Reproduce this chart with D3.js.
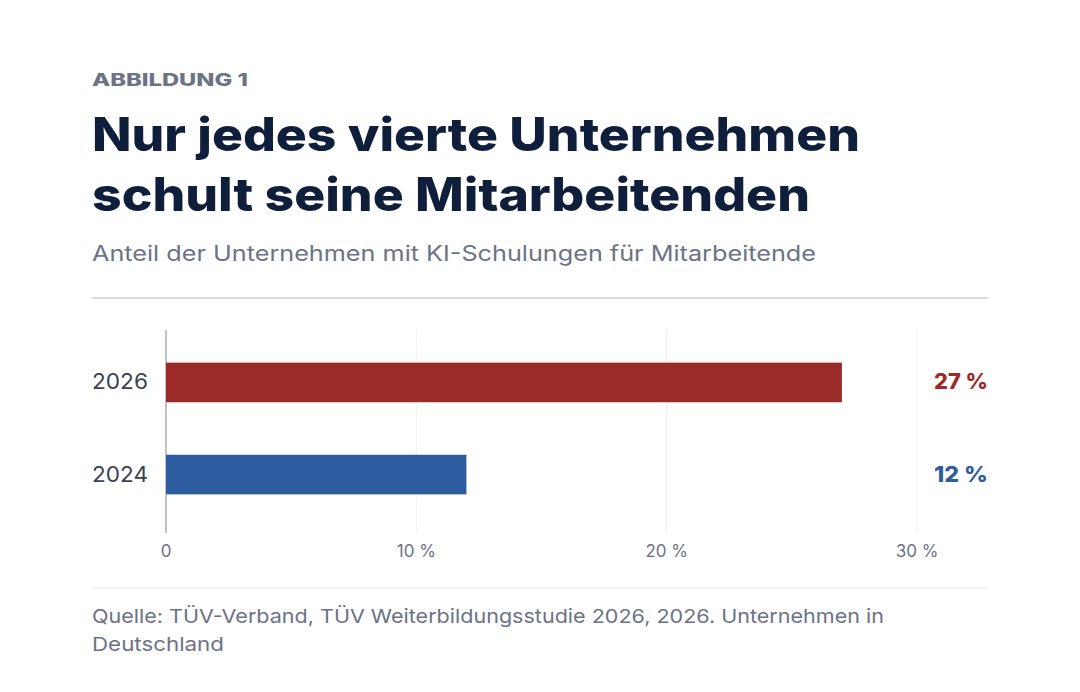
<!DOCTYPE html>
<html><head><meta charset="utf-8">
<script src="https://cdn.jsdelivr.net/npm/d3@7"></script>
<style>body{margin:0;background:#fff}svg{display:block}</style>
</head><body><svg id="c"></svg>
<script>
// chart data
var years = ['2026', '2024'];
var shares = [27, 12];
var barColors = ['#9b2b27', '#2d5d9e'];
var ticks = [0, 10, 20, 30];

var W = 1080, H = 692;
var svg = d3.select('#c').attr('width', W).attr('height', H);
var font = 'Inter, "Noto Sans", sans-serif';

// stretch text to the reference width
function fit(sel, w) { return sel.attr('textLength', w).attr('lengthAdjust', 'spacingAndGlyphs'); }

fit(svg.append('text').attr('x', 92).attr('y', 86).text('ABBILDUNG 1')
    .attr('font-family', font).attr('font-weight', 800).attr('font-size', 17)
    .attr('fill', '#6b7385'), 156);
[['Nur jedes vierte Unternehmen', 768], ['schult seine Mitarbeitenden', 718]].forEach(function(t, i) {
    fit(svg.append('text').attr('x', 92).attr('y', 151 + i * 60).text(t[0])
        .attr('font-family', font).attr('font-weight', 800).attr('font-size', 46)
        .attr('fill', '#0f1f3b'), t[1]);
});
fit(svg.append('text').attr('x', 92).attr('y', 261).text('Anteil der Unternehmen mit KI-Schulungen für Mitarbeitende')
    .attr('font-family', font).attr('font-size', 21).attr('fill', '#6b7385'), 724);
svg.append('line').attr('x1', 92).attr('x2', 988).attr('y1', 298).attr('y2', 298)
    .attr('stroke', '#b4bac6').attr('stroke-width', 1.2);

var x = d3.scaleLinear().domain([0, 30]).range([166, 917]);
var y = d3.scaleBand().domain(years).range([335, 522]).paddingInner(0.57).paddingOuter(0.3);

svg.selectAll('.grid').data(ticks.slice(1)).enter().append('line')
    .attr('x1', d => x(d)).attr('x2', d => x(d)).attr('y1', 330).attr('y2', 533)
    .attr('stroke', '#eceef2');
svg.append('line').attr('x1', x(0)).attr('x2', x(0)).attr('y1', 330).attr('y2', 533)
    .attr('stroke', '#7d8699');

svg.selectAll('.bar').data(years).enter().append('rect')
    .attr('x', x(0)).attr('y', d => y(d)).attr('height', y.bandwidth())
    .attr('width', (d, i) => x(shares[i]) - x(0)).attr('fill', (d, i) => barColors[i]);

fit(svg.selectAll('.yl').data(years).enter().append('text')
    .attr('x', 92).attr('y', d => y(d) + y.bandwidth() / 2 + 7)
    .text(d => d).attr('font-family', font).attr('font-size', 21).attr('fill', '#3b4252'), 56);

fit(svg.selectAll('.vl').data(years).enter().append('text')
    .attr('x', 934).attr('y', d => y(d) + y.bandwidth() / 2 + 7)
    .text((d, i) => shares[i] + ' %').attr('font-family', font).attr('font-weight', 800)
    .attr('font-size', 21).attr('fill', (d, i) => barColors[i]), 54);

svg.selectAll('.tk').data(ticks).enter().append('text')
    .attr('x', d => x(d)).attr('y', 557).attr('text-anchor', 'middle')
    .text(d => d === 0 ? '0' : d + ' %').attr('font-family', font).attr('font-size', 17)
    .attr('fill', '#6b7385');

svg.append('line').attr('x1', 92).attr('x2', 988).attr('y1', 588).attr('y2', 588)
    .attr('stroke', '#e6e8ec');
[['Quelle: TÜV-Verband, TÜV Weiterbildungsstudie 2026, 2026. Unternehmen in', 792], ['Deutschland', 132]].forEach(function(t, i) {
    fit(svg.append('text').attr('x', 92).attr('y', 623 + i * 28).text(t[0])
        .attr('font-family', font).attr('font-size', 19).attr('fill', '#6b7385'), t[1]);
});
</script></body></html>
